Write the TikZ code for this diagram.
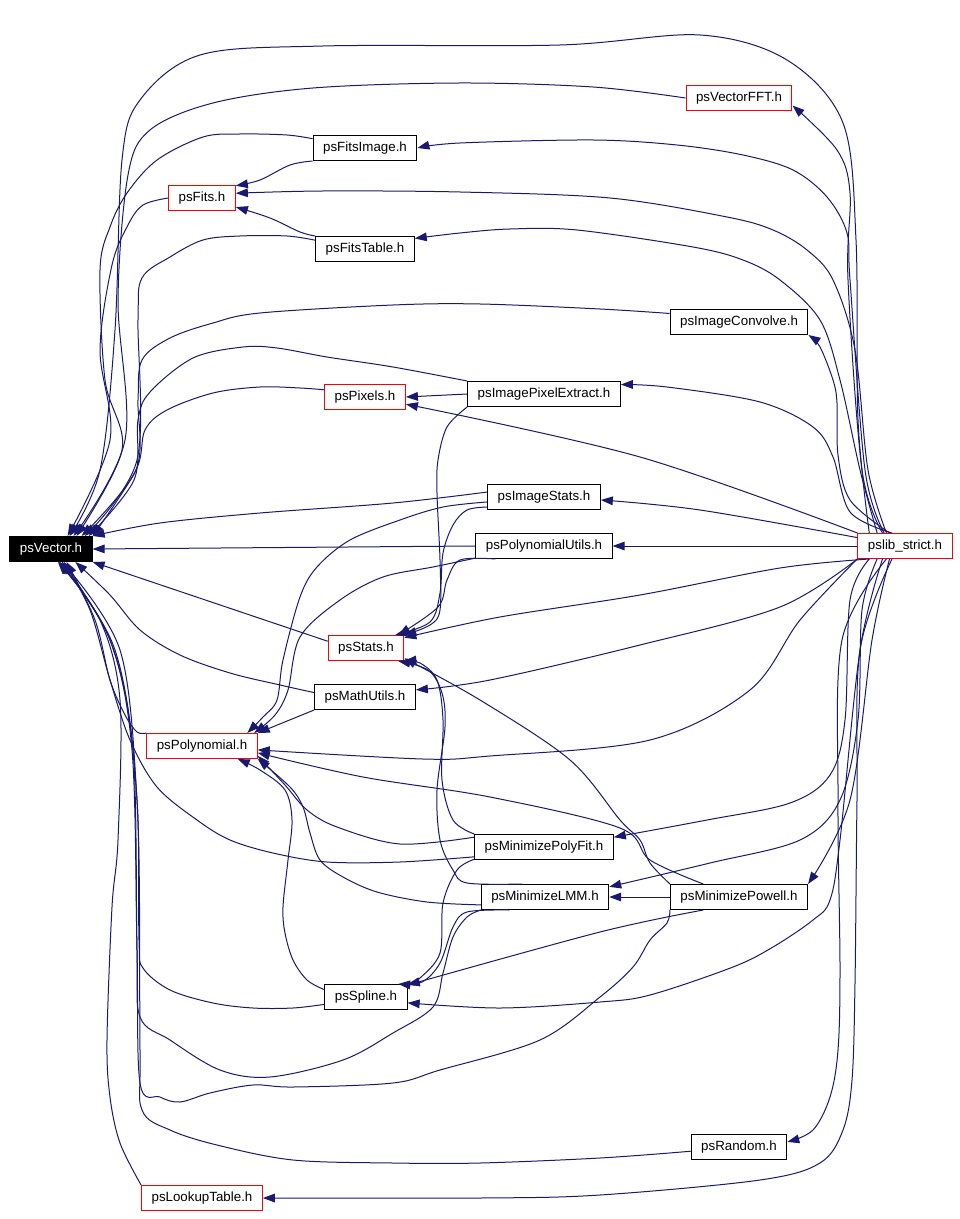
\documentclass[tikz,border=0pt]{standalone}
\usepackage{fontspec}
\setmainfont{Liberation Sans}
\usetikzlibrary{arrows.meta}
\definecolor{midnight}{RGB}{25,25,112}

\begin{document}
\begin{tikzpicture}[x=0.75pt,y=-0.75pt,
  hfile/.style={draw=black,line width=0.75pt,fill=white,font=\fontsize{10}{12}\selectfont,
    inner xsep=7.5pt,inner ysep=0pt,minimum height=18.75pt},
  redhfile/.style={hfile,draw=red},
  tophfile/.style={hfile,fill=black,text=white},
  edge/.style={draw=midnight,line width=0.75pt,-{Triangle[length=9pt,width=6.5pt]}}]
\useasboundingbox (0,0) rectangle (959,1219);
% files
\node[tophfile] (vec) at (51,549) {psVector.h};
\node[redhfile] (vfft) at (739,98) {psVectorFFT.h};
\node[hfile] (fitsimg) at (365,148) {psFitsImage.h};
\node[redhfile] (fits) at (202,198) {psFits.h};
\node[hfile] (fitstab) at (365,249) {psFitsTable.h};
\node[hfile] (conv) at (739,322) {psImageConvolve.h};
\node[hfile] (pixext) at (544,394) {psImagePixelExtract.h};
\node[redhfile] (pixels) at (365,397) {psPixels.h};
\node[hfile] (imgstats) at (544,497) {psImageStats.h};
\node[hfile] (polyutil) at (544,546) {psPolynomialUtils.h};
\node[redhfile] (strict) at (905,546) {pslib\_strict.h};
\node[redhfile] (stats) at (366,648) {psStats.h};
\node[hfile] (mathu) at (365,697) {psMathUtils.h};
\node[redhfile] (poly) at (202,746) {psPolynomial.h};
\node[hfile] (mpoly) at (544,847) {psMinimizePolyFit.h};
\node[hfile] (mlmm) at (545,897) {psMinimizeLMM.h};
\node[hfile] (mpow) at (739,897) {psMinimizePowell.h};
\node[hfile] (spline) at (366,997) {psSpline.h};
\node[hfile] (rand) at (739,1147) {psRandom.h};
\node[redhfile] (lookup) at (202,1198) {psLookupTable.h};

% everything includes psVector.h
\draw[edge] plot[smooth,tension=0.55] coordinates {(strict.160) (858,420) (856,240) (843,123) (787,60) (700,35) (560,45) (323,46) (200,55) (140,100) (122,160) (115,330) (100,470) (vec.35)};
\draw[edge] plot[smooth,tension=0.55] coordinates {(vfft.west) (593,87) (460,83) (313,88) (213,103) (150,130) (128,175) (118,300) (125,440) (vec.30)};
\draw[edge] plot[smooth,tension=0.55] coordinates {(fitsimg.170) (287,135) (240,134) (203,137) (157,160) (127,193) (110,227) (100,270) (105,380) (122,450) (vec.27)};
\draw[edge] plot[smooth,tension=0.55] coordinates {(fits.west) (143,205) (128,225) (112,265) (100,350) (110,440) (vec.38)};
\draw[edge] plot[smooth,tension=0.55] coordinates {(fitstab.170) (287,236) (240,236) (203,240) (170,257) (142,278) (138,320) (137,460) (vec.21)};
\draw[edge] plot[smooth,tension=0.55] coordinates {(conv.173) (600,309) (480,304) (393,305) (260,313) (213,323) (170,338) (142,360) (138,400) (136,470) (vec.23)};
\draw[edge] plot[smooth,tension=0.55] coordinates {(pixext.north west) (393,367) (327,357) (277,348) (243,347) (193,358) (150,392) (138,420) (134,480) (vec.19)};
\draw[edge] plot[smooth,tension=0.55] coordinates {(pixels.170) (300,388) (260,387) (213,393) (167,410) (145,430) (136,470) (vec.17)};
\draw[edge] plot[smooth,tension=0.55] coordinates {(imgstats.175) (393,503) (260,513) (160,523) (vec.north east)};
\draw[edge] (polyutil.west) -- (vec.east);
\draw[edge] (stats.170) -- (vec.south east);
\draw[edge] plot[smooth,tension=0.55] coordinates {(mathu.175) (280,685) (230,673) (180,655) (140,630) (110,595) (vec.-28)};
\draw[edge] plot[smooth,tension=0.55] coordinates {(poly.north west) (137,732) (125,715) (110,680) (95,620) (vec.-40)};
\draw[edge] plot[smooth,tension=0.55] coordinates {(mpoly.188) (400,862) (327,862) (273,853) (230,840) (197,820) (157,787) (130,740) (110,680) (90,610) (vec.-45)};
\draw[edge] plot[smooth,tension=0.55] coordinates {(mlmm.south west) (467,917) (453,937) (443,973) (433,1007) (393,1033) (343,1060) (270,1077) (220,1070) (170,1040) (140,1017) (137,950) (133,750) (110,640) (vec.-50)};
\draw[edge] plot[smooth,tension=0.55] coordinates {(mpow.south west) (667,923) (650,940) (633,967) (600,997) (540,1040) (440,1070) (393,1083) (293,1087) (253,1085) (210,1093) (180,1102) (160,1097) (140,1083) (137,950) (132,750) (110,640) (vec.-55)};
\draw[edge] plot[smooth,tension=0.55] coordinates {(spline.190) (293,1008) (253,1008) (213,1003) (170,990) (143,968) (139,940) (137,800) (120,650) (vec.-50)};
\draw[edge] plot[smooth,tension=0.55] coordinates {(rand.185) (600,1158) (480,1163) (393,1163) (293,1160) (217,1145) (170,1130) (142,1110) (140,1050) (137,800) (115,650) (vec.-58)};
\draw[edge] plot[smooth,tension=0.55] coordinates {(lookup.north west) (120,1143) (110,1097) (107,1040) (112,907) (118,840) (120,700) (100,620) (vec.-62)};

% pslib_strict.h includes the rest
\draw[edge] plot[smooth,tension=0.55] coordinates {(strict.150) (862,470) (848,280) (850,193) (837,150) (vfft.-8)};
\draw[edge] plot[smooth,tension=0.55] coordinates {(strict.148) (865,470) (850,280) (847,233) (827,197) (793,170) (743,155) (677,145) (593,140) (460,143) (fitsimg.east)};
\draw[edge] plot[smooth,tension=0.55] coordinates {(strict.145) (868,470) (855,350) (833,280) (807,250) (773,230) (727,217) (610,198) (460,192) (323,191) (fits.8)};
\draw[edge] plot[smooth,tension=0.55] coordinates {(strict.155) (860,470) (840,380) (820,320) (780,280) (743,260) (693,247) (577,230) (510,229) (460,233) (fitstab.12)};
\draw[edge] plot[smooth,tension=0.55] coordinates {(strict.140) (850,500) (838,455) (837,403) (833,380) (820,347) (conv.south east)};
\draw[edge] plot[smooth,tension=0.55] coordinates {(strict.135) (850,512) (833,457) (813,427) (760,402) (667,387) (pixext.7)};
\draw[edge] plot[smooth,tension=0.55] coordinates {(strict.north west) (640,457) (pixels.-10)};
\draw[edge] plot[smooth,tension=0.55] coordinates {(strict.170) (700,510) (imgstats.-3)};
\draw[edge] (strict.west) -- (polyutil.east);
\draw[edge] plot[smooth,tension=0.55] coordinates {(strict.200) (780,568) (640,595) (500,617) (stats.15)};
\draw[edge] plot[smooth,tension=0.55] coordinates {(strict.south west) (780,607) (640,645) (490,680) (mathu.8)};
\draw[edge] plot[smooth,tension=0.55] coordinates {(strict.-165) (800,620) (750,690) (650,740) (490,756) (423,759) (poly.-4)};
\draw[edge] plot[smooth,tension=0.55] coordinates {(strict.-160) (850,600) (845,720) (830,775) (790,803) (707,820) (mpoly.8)};
\draw[edge] plot[smooth,tension=0.55] coordinates {(strict.-155) (862,610) (858,720) (840,800) (800,840) (710,863) (mlmm.9)};
\draw[edge] plot[smooth,tension=0.55] coordinates {(strict.-140) (872,640) (850,800) (mpow.north east)};
\draw[edge] plot[smooth,tension=0.55] coordinates {(strict.-150) (860,650) (840,840) (830,900) (813,920) (773,947) (733,967) (650,995) (600,1002) (500,1008) (spline.-8)};
\draw[edge] plot[smooth,tension=0.55] coordinates {(strict.-145) (842,640) (838,800) (840,967) (838,1050) (830,1097) (813,1130) (rand.6)};
\draw[edge] plot[smooth,tension=0.55] coordinates {(strict.-135) (860,650) (857,800) (855,983) (852,1080) (843,1130) (820,1163) (760,1180) (600,1195) (480,1198) (lookup.east)};

% the other includes
\draw[edge] plot[smooth,tension=0.55] coordinates {(fitsimg.south west) (290,165) (260,180) (fits.20)};
\draw[edge] plot[smooth,tension=0.55] coordinates {(fitstab.north west) (300,232) (270,218) (fits.-15)};
\draw[edge] (pixext.west) -- (pixels.east);
\draw[edge] plot[smooth,tension=0.55] coordinates {(pixext.south west) (447,427) (438,460) (437,493) (440,560) (440,610) (430,625) (stats.north east)};
\draw[edge] plot[smooth,tension=0.55] coordinates {(imgstats.190) (467,510) (453,525) (443,553) (440,593) (430,622) (stats.24)};
\draw[edge] plot[smooth,tension=0.55] coordinates {(polyutil.195) (460,560) (447,580) (438,607) (stats.22)};
\draw[edge] plot[smooth,tension=0.55] coordinates {(imgstats.185) (443,507) (400,520) (350,540) (317,567) (300,597) (283,660) (277,700) (263,717) (poly.16)};
\draw[edge] plot[smooth,tension=0.55] coordinates {(polyutil.190) (433,567) (383,577) (340,600) (300,637) (288,690) (275,715) (poly.14)};
\draw[edge] (mathu.south west) -- (poly.north east);
\draw[edge] plot[smooth,tension=0.55] coordinates {(mpoly.172) (400,844) (337,827) (307,810) (285,785) (poly.-10)};
\draw[edge] plot[smooth,tension=0.55] coordinates {(mlmm.187) (427,902) (377,892) (343,877) (320,860) (310,833) (303,807) (290,787) (poly.south east)};
\draw[edge] plot[smooth,tension=0.55] coordinates {(mpow.160) (650,860) (620,828) (490,797) (363,777) (poly.-7)};
\draw[edge] plot[smooth,tension=0.55] coordinates {(spline.170) (307,980) (293,960) (285,933) (283,907) (288,860) (292,820) (285,790) (260,770) (poly.-20)};
\draw[edge] plot[smooth,tension=0.55] coordinates {(mpow.north west) (650,863) (640,840) (620,820) (570,760) (480,700) (stats.-15)};
\draw[edge] plot[smooth,tension=0.55] coordinates {(mpoly.north west) (453,820) (442,780) (443,720) (437,680) (420,663) (stats.south east)};
\draw[edge] plot[smooth,tension=0.55] coordinates {(mlmm.150) (467,883) (453,870) (440,840) (437,790) (445,727) (442,693) (428,670) (stats.-22)};
\draw[edge] (mpow.west) -- (mlmm.east);
\draw[edge] plot[smooth,tension=0.55] coordinates {(mpoly.190) (457,870) (443,903) (440,953) (420,978) (spline.north east)};
\draw[edge] plot[smooth,tension=0.55] coordinates {(mlmm.200) (467,912) (453,927) (440,963) (422,982) (spline.22)};
\draw[edge] plot[smooth,tension=0.55] coordinates {(mpow.200) (600,932) (spline.16)};
\end{tikzpicture}
\end{document}
